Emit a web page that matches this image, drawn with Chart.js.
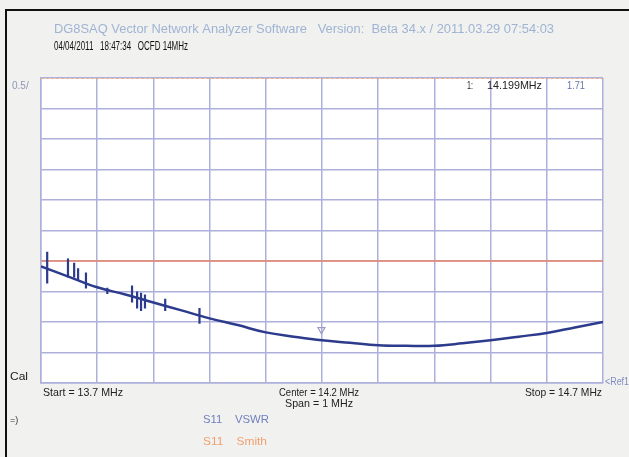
<!DOCTYPE html>
<html>
<head>
<meta charset="utf-8">
<script src="https://cdn.jsdelivr.net/npm/chart.js@4"></script>
<style>
  body { margin: 0; background: #f1f1ef; }
  canvas { display: block; }
</style>
</head>
<body>
<canvas id="vna" width="629" height="457"></canvas>
<script>
// S11 VSWR trace, 13.7 - 14.7 MHz
const freqs = [13.70, 13.75, 13.80, 13.85, 13.90, 13.95, 14.00, 14.05, 14.10, 14.15, 14.20,
               14.25, 14.30, 14.35, 14.40, 14.45, 14.50, 14.55, 14.60, 14.65, 14.70];
const vswr = [2.91, 2.74, 2.57, 2.45, 2.32, 2.19, 2.06, 1.95, 1.83, 1.76, 1.70,
              1.66, 1.62, 1.61, 1.61, 1.65, 1.70, 1.76, 1.82, 1.91, 2.00];

// noise spikes on the low end of the sweep
const spikeFreqs = [13.711, 13.748, 13.759, 13.766, 13.780, 13.818, 13.862, 13.871, 13.878, 13.885, 13.921, 13.982];
const spikeHigh = [3.15, 3.04, 2.97, 2.88, 2.81, 2.56, 2.60, 2.50, 2.48, 2.45, 2.38, 2.23];
const spikeLow = [2.63, 2.73, 2.73, 2.68, 2.55, 2.46, 2.32, 2.22, 2.18, 2.22, 2.18, 1.97];

const refLevel = 3.0;      // red reference line
const smithLevel = 6.0;    // smith trace pinned at top
const markerFreq = 14.199;
const markerVswr = 1.71;

const fStart = 13.7, fStop = 14.7, fStep = 0.1;
const yMin = 1, yMax = 6, yStep = 0.5;

const FONT = '"Liberation Sans", Arial, sans-serif';
const GRID = "#aeb0dc";

const spikePoints = [];
spikeFreqs.forEach((f, i) => {
    spikePoints.push({ x: f, y: spikeHigh[i] });
    spikePoints.push({ x: f, y: spikeLow[i] });
    spikePoints.push({ x: f, y: null });
});

const screenPlugin = {
    id: "screen",
    beforeDraw(chart) {
        const ctx = chart.ctx;
        const a = chart.chartArea;
        ctx.save();
        ctx.fillStyle = "#f1f1ef";
        ctx.fillRect(0, 0, chart.width, chart.height);
        ctx.fillStyle = "#ffffff";
        ctx.fillRect(a.left, a.top, a.right - a.left, a.bottom - a.top);
        ctx.restore();
    },
    afterDraw(chart) {
        const ctx = chart.ctx;
        const a = chart.chartArea;
        const xs = chart.scales.x;
        const ys = chart.scales.y;
        ctx.save();

        // frame
        ctx.fillStyle = "#111";
        ctx.fillRect(5, 9, chart.width - 5, 2);
        ctx.fillRect(5, 9, 2, chart.height - 9);

        ctx.textBaseline = "middle";
        // condensed text: squeeze horizontally to the given width
        const txt = (s, x, y, color, font, align, w) => {
            ctx.font = font + " " + FONT;
            ctx.fillStyle = color;
            ctx.textAlign = "left";
            const nat = ctx.measureText(s).width;
            const sx = w ? w / nat : 1;
            const tw = nat * sx;
            let left = x;
            if (align === "center") left = x - tw / 2;
            if (align === "right") left = x - tw;
            ctx.save();
            ctx.translate(left, y);
            ctx.scale(sx, 1);
            ctx.fillText(s, 0, 0);
            ctx.restore();
        };

        txt("DG8SAQ Vector Network Analyzer Software   Version:  Beta 34.x / 2011.03.29 07:54:03", 54, 30, "#9fb4d4", "12.5px", "left", 500);
        txt("04/04/2011   18:47:34   OCFD 14MHz", 54, 47, "#111", "12px", "left", 134);
        txt(yStep + "/", 12, 86, "#8f97b8", "10px");

        txt("1:", 473, 86, "#222", "11px", "right", 6);
        txt(markerFreq.toFixed(3) + "MHz", 487, 86, "#222", "11px", "left", 55);
        txt(markerVswr.toFixed(2), 567, 86, "#6573aa", "11px", "left", 18);

        txt("Cal", 10, 377, "#222", "11px", "left", 18);
        txt("Start = " + fStart + " MHz", a.left + 2, 393, "#222", "11px", "left", 80);
        txt("Center = " + ((fStart + fStop) / 2).toFixed(1) + " MHz", (a.left + a.right) / 2 - 3, 393, "#222", "11px", "center", 80);
        txt("Span = " + (fStop - fStart).toFixed(0) + " MHz", (a.left + a.right) / 2 - 3, 404, "#222", "11px", "center", 68);
        txt("Stop = " + fStop + " MHz", a.right - 1, 393, "#222", "11px", "right", 77);
        txt("<Ref1", a.right + 2, 382, "#7f8cc0", "10px", "left", 24);
        txt("=)", 10, 421, "#333", "9px");

        txt("S11    VSWR", 203, 420, "#7180c0", "11px", "left", 66);
        txt("S11    Smith", 203, 442, "#f0a070", "11px", "left", 64);

        // marker triangle just above the trace
        const mx = xs.getPixelForValue(markerFreq);
        const my = ys.getPixelForValue(markerVswr) - 9;
        ctx.strokeStyle = "#9a9ac4";
        ctx.lineWidth = 1.2;
        ctx.beginPath();
        ctx.moveTo(mx - 3.5, my - 3);
        ctx.lineTo(mx + 3.5, my - 3);
        ctx.lineTo(mx, my + 3);
        ctx.closePath();
        ctx.stroke();

        ctx.restore();
    }
};

new Chart(document.getElementById("vna").getContext("2d"), {
    type: "line",
    data: {
        datasets: [
            {
                label: "S11 VSWR",
                data: freqs.map((f, i) => ({ x: f, y: vswr[i] })),
                borderColor: "#2c3b8c",
                borderWidth: 2.5,
                pointRadius: 0,
                tension: 0.4
            },
            {
                label: "noise",
                data: spikePoints,
                borderColor: "#2c3b8c",
                borderWidth: 2.2,
                pointRadius: 0,
                spanGaps: false
            },
            {
                label: "Ref",
                data: [{ x: fStart, y: refLevel }, { x: fStop, y: refLevel }],
                borderColor: "#e8866a",
                borderWidth: 1.6,
                pointRadius: 0
            },
            {
                label: "S11 Smith",
                data: [{ x: fStart, y: smithLevel }, { x: fStop, y: smithLevel }],
                borderColor: "#f2a66e",
                borderWidth: 1.6,
                borderDash: [3, 2],
                pointRadius: 0
            }
        ]
    },
    options: {
        responsive: false,
        animation: false,
        layout: { padding: { left: 41, right: 26, top: 78, bottom: 74 } },
        plugins: { legend: { display: false }, tooltip: { enabled: false } },
        scales: {
            x: {
                type: "linear",
                min: fStart,
                max: fStop,
                ticks: { display: false, stepSize: fStep },
                grid: { color: GRID, lineWidth: 1.5, drawTicks: false },
                border: { color: GRID, width: 1.5 }
            },
            y: {
                min: yMin,
                max: yMax,
                ticks: { display: false, stepSize: yStep },
                grid: { color: GRID, lineWidth: 1.5, drawTicks: false },
                border: { color: GRID, width: 1.5 }
            }
        }
    },
    plugins: [screenPlugin]
});
</script>
</body>
</html>
